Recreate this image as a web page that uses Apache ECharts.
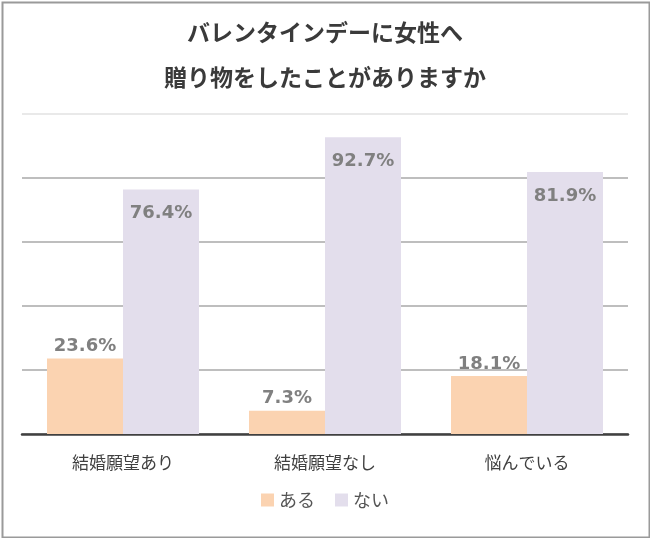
<!DOCTYPE html>
<html><head><meta charset="utf-8">
<script src="https://cdn.jsdelivr.net/npm/echarts@6/dist/echarts.min.js"></script>
<style>html,body{margin:0;padding:0;background:#fff}#c{width:650px;height:538px}</style>
</head><body><div id="c"></div>
<script>
const categories = ['結婚願望あり', '結婚願望なし', '悩んでいる'];
const aru = [23.6, 7.3, 18.1];
const nai = [76.4, 92.7, 81.9];
const seriesNames = ['ある', 'ない'];
const titleText = 'バレンタインデーに女性へ\n贈り物をしたことがありますか';

const chart = echarts.init(document.getElementById('c'));
const jp = '"Noto Sans CJK JP", "Noto Sans", sans-serif';
const num = '"DejaVu Sans", Verdana, sans-serif';
chart.setOption({
  animation: false,
  title: {
    text: titleText, left: 'center', top: 5,
    textStyle: { fontFamily: jp, fontSize: 23, fontWeight: 'bold', color: '#3a3a3a', lineHeight: 45 }
  },
  legend: {
    bottom: 24, left: 'center', itemWidth: 13, itemHeight: 13, itemGap: 20,
    icon: 'rect',
    textStyle: { fontFamily: jp, fontSize: 18, color: '#555' },
    data: seriesNames
  },
  graphic: [{
    type: 'rect', left: 0, top: 0, z: 100, silent: true,
    shape: { x: 1, y: 1, width: 647, height: 535 },
    style: { fill: 'none', stroke: '#9a9a9a', lineWidth: 2 }
  }],
  grid: { left: 22, right: 22, top: 114, bottom: 104 },
  xAxis: {
    type: 'category', data: categories,
    axisLine: { lineStyle: { color: '#404040', width: 2.5 } },
    axisTick: { show: false },
    axisLabel: { fontFamily: jp, fontSize: 17, color: '#404040', margin: 20 }
  },
  yAxis: {
    type: 'value', min: 0, max: 100, interval: 20,
    axisLabel: { show: false }, axisLine: { show: false }, axisTick: { show: false },
    splitLine: { lineStyle: { color: ['#a8a8a8', '#a8a8a8', '#a8a8a8', '#a8a8a8', '#a8a8a8', '#e2e2e2'], width: 1.5 } }
  },
  series: [
    {
      name: seriesNames[0], type: 'bar', data: aru, barWidth: 76, barGap: '0%',
      itemStyle: { color: '#FBD3B1' },
      label: { show: true, position: 'top', distance: 3, formatter: p => p.value.toFixed(1) + '%',
        fontFamily: num, fontWeight: 'bold', fontSize: 18, color: '#808080' }
    },
    {
      name: seriesNames[1], type: 'bar', data: nai, barWidth: 76,
      itemStyle: { color: '#E3DEEC' },
      label: { show: true, position: 'insideTop', distance: 15, formatter: p => p.value.toFixed(1) + '%',
        fontFamily: num, fontWeight: 'bold', fontSize: 18, color: '#808080' }
    }
  ]
});
</script></body></html>
